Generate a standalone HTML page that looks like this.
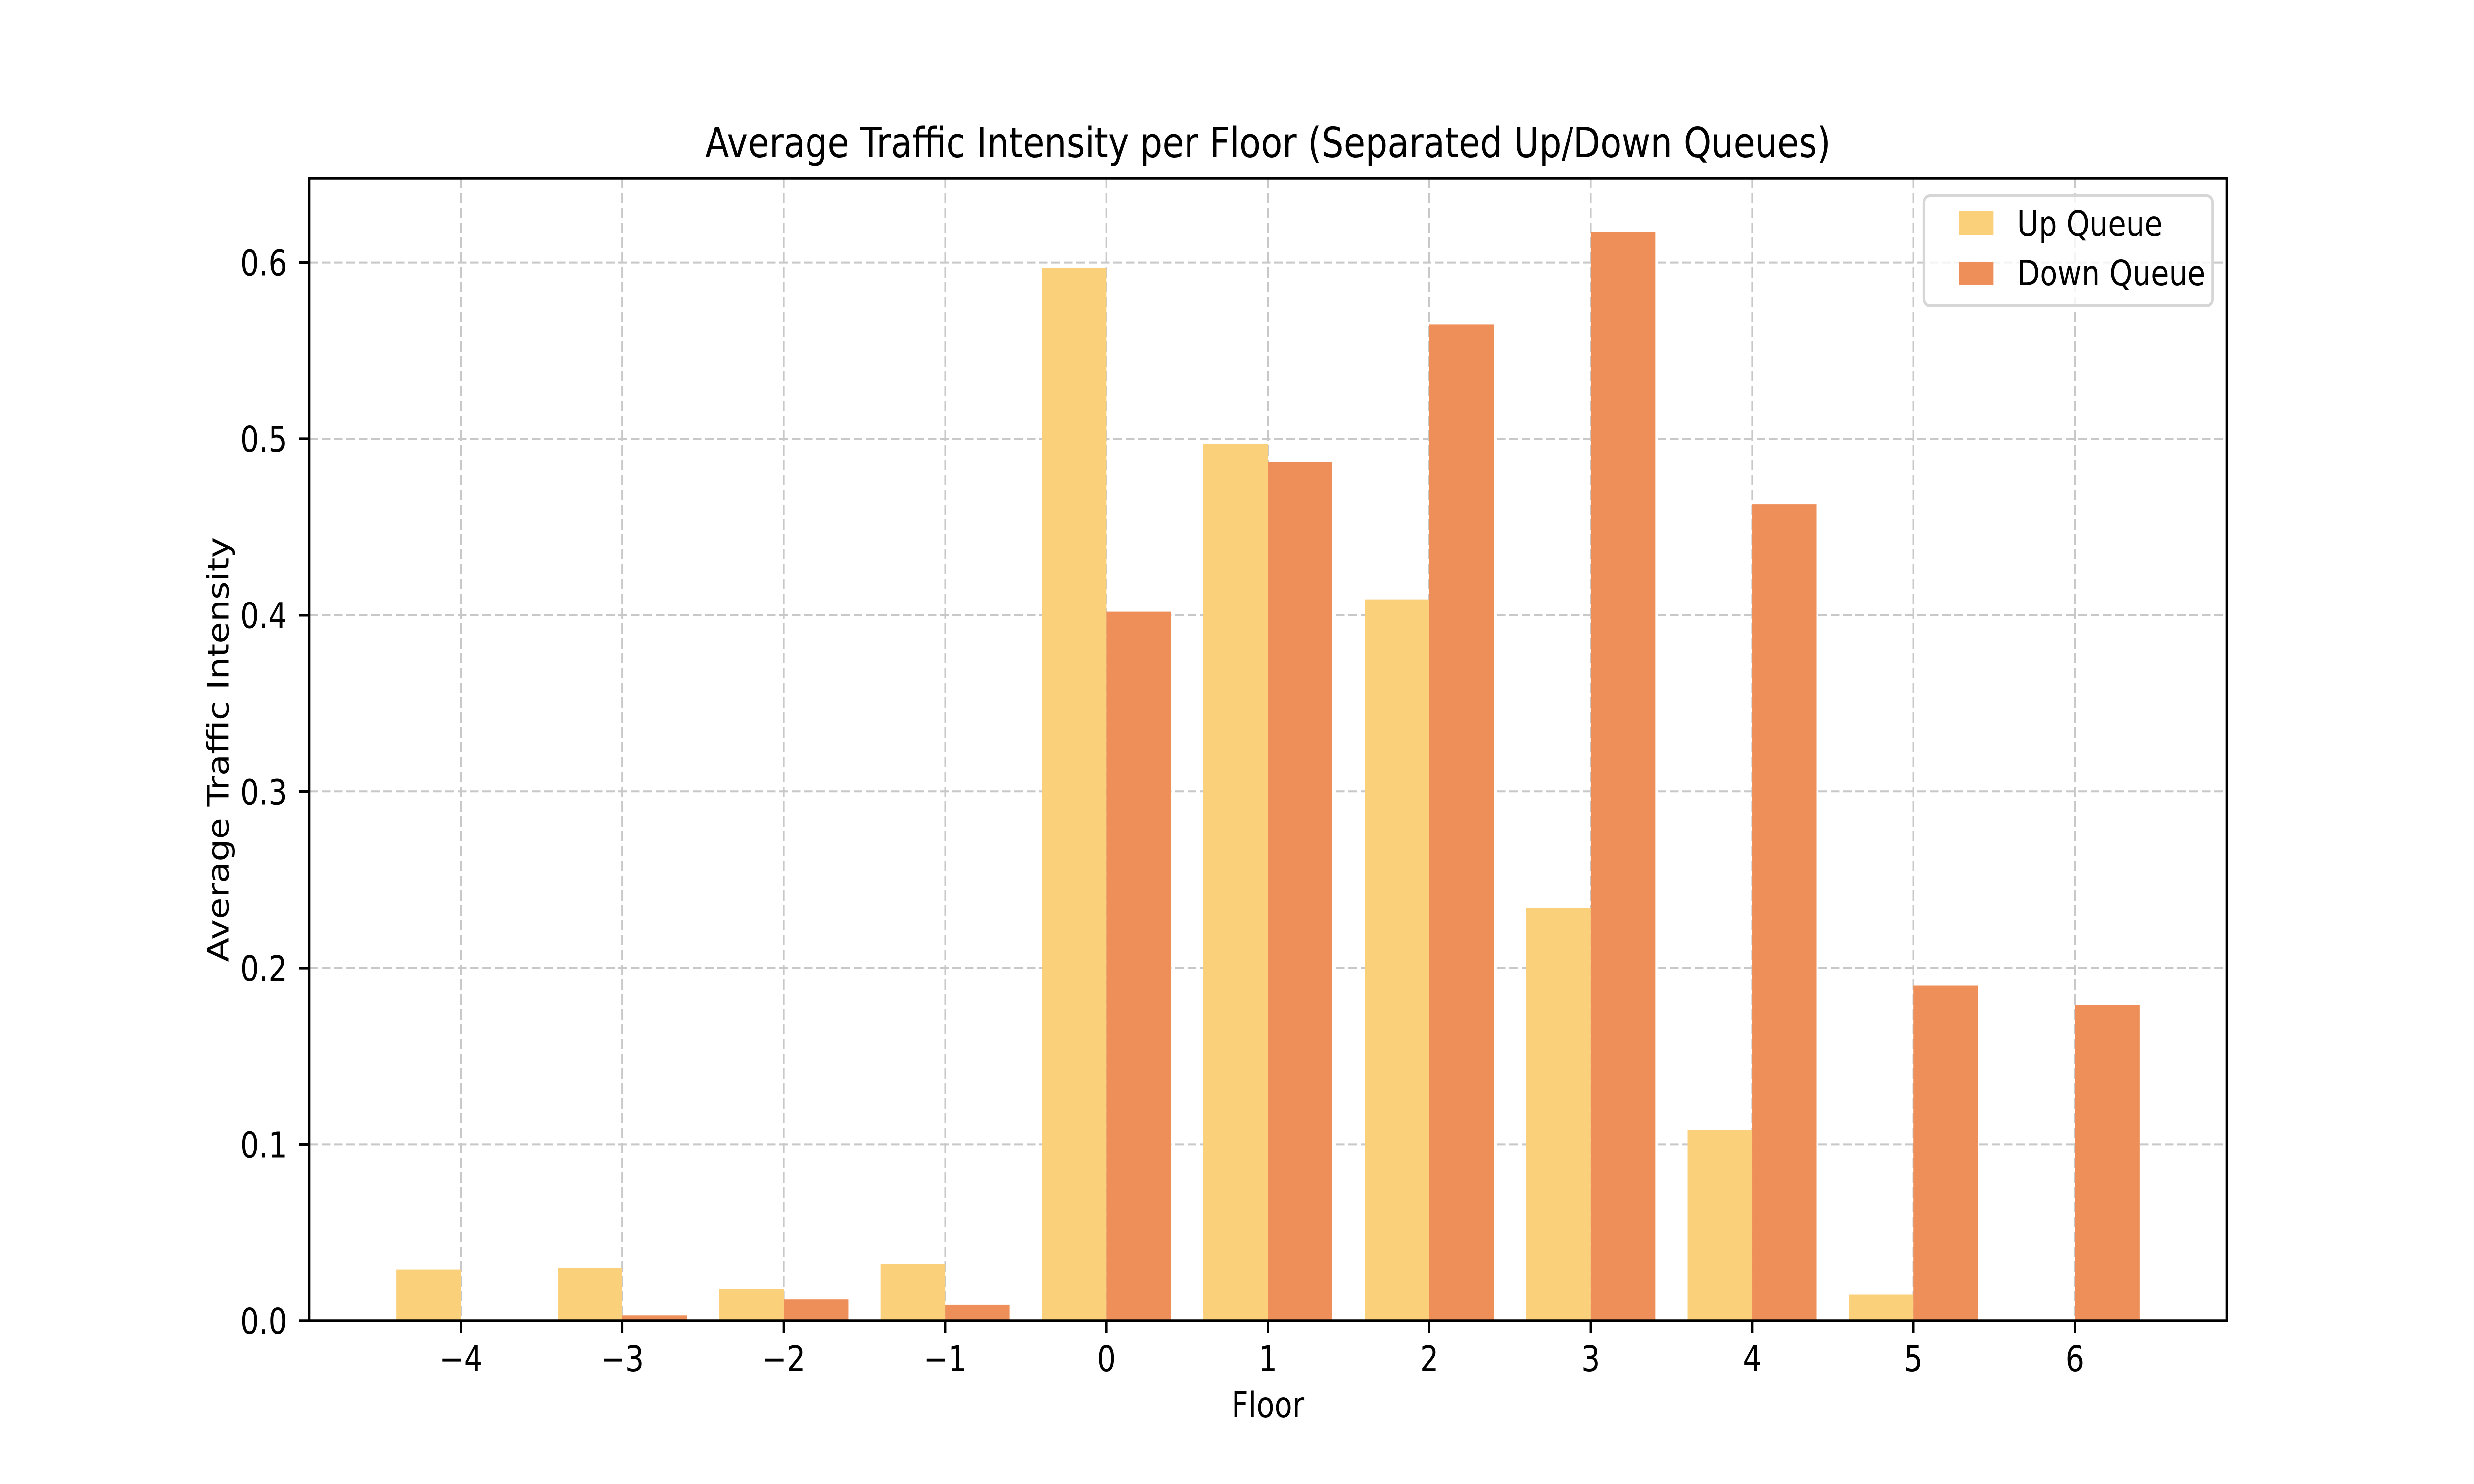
<!DOCTYPE html>
<html><head><meta charset="utf-8"><style>html,body{margin:0;padding:0;background:#fff;width:100%;height:100%;overflow:hidden}svg{display:block;width:100vw;height:100vh}</style></head>
<body>
<svg id="chart" viewBox="0 0 6000 3000" preserveAspectRatio="none" xmlns="http://www.w3.org/2000/svg" font-family="'DejaVu Sans','Liberation Sans',sans-serif">
<rect x="0" y="0" width="6000" height="3000" fill="#ffffff"/>
<g id="grid"></g>
<g id="bars"></g>
<g id="axes"></g>
<text x="3075" y="318" font-size="85" text-anchor="middle" fill="#000">Average Traffic Intensity per Floor (Separated Up/Down Queues)</text>
<text x="3075" y="2865" font-size="71" text-anchor="middle" fill="#000">Floor</text>
<text transform="translate(554,1515) rotate(-90)" font-size="71" text-anchor="middle" fill="#000">Average Traffic Intensity</text>
<g>
<rect x="4666" y="396" width="700" height="222" rx="14" fill="#fff" fill-opacity="0.8" stroke="#d6d6d6" stroke-width="6"/>
<g>
<rect x="4751" y="427" width="83" height="49" fill="#fbd07b"/>
<text x="4892" y="477" font-size="71" fill="#000">Up Queue</text>
</g>
<g>
<rect x="4751" y="529" width="83" height="48" fill="#ee8e58"/>
<text x="4892" y="577" font-size="71" fill="#000">Down Queue</text>
</g>
</g>
</svg>
<script>
const floors = [-4,-3,-2,-1,0,1,2,3,4,5,6];
const upQueue = [0.029,0.030,0.018,0.032,0.597,0.497,0.409,0.234,0.108,0.015,0];
const downQueue = [0,0.003,0.012,0.009,0.402,0.487,0.565,0.617,0.463,0.190,0.179];
const yTicks = [0.0,0.1,0.2,0.3,0.4,0.5,0.6];
const yTickLabels = ["0.0","0.1","0.2","0.3","0.4","0.5","0.6"];
const xTickLabels = ["\u22124","\u22123","\u22122","\u22121","0","1","2","3","4","5","6"];

const NS = "http://www.w3.org/2000/svg";
const L = 750, R = 5400, T = 360, B = 2670;
const barW = 0.4;
const xmin = Math.min(...floors) - barW, xmax = Math.max(...floors) + barW;
const xpad = (xmax - xmin) * 0.05;
const x0 = xmin - xpad, x1 = xmax + xpad;
const ymax = Math.max(...upQueue, ...downQueue) * 1.05;
function sx(v){ return L + (v - x0) / (x1 - x0) * (R - L); }
function sy(v){ return B - v / ymax * (B - T); }
function mk(tag, attrs, parent){ const e = document.createElementNS(NS, tag); for (const k in attrs) e.setAttribute(k, attrs[k]); parent.appendChild(e); return e; }

const grid = document.getElementById('grid');
const bars = document.getElementById('bars');
const axes = document.getElementById('axes');

floors.forEach((f) => {
  const g = mk('line', {x1: sx(f), x2: sx(f), y1: T, y2: B, stroke: '#c8c8c8', 'stroke-width': 4, 'stroke-dasharray': '21 9'}, grid);
  
  
});
yTicks.forEach((v) => {
  const g = mk('line', {x1: L, x2: R, y1: sy(v), y2: sy(v), stroke: '#c8c8c8', 'stroke-width': 4, 'stroke-dasharray': '21 9'}, grid);
  
  
});

floors.forEach((f, i) => {
  const u = mk('rect', {x: sx(f - barW), y: sy(upQueue[i]), width: sx(f) - sx(f - barW), height: sy(0) - sy(upQueue[i]), fill: '#fbd07b'}, bars);
  
  
  const d = mk('rect', {x: sx(f), y: sy(downQueue[i]), width: sx(f + barW) - sx(f), height: sy(0) - sy(downQueue[i]), fill: '#ee8e58'}, bars);
  
  
});

const frame = mk('rect', {x: L, y: T, width: R - L, height: B - T, fill: 'none', stroke: '#000', 'stroke-width': 5.5}, axes);



floors.forEach((f, i) => {
  const t = mk('line', {x1: sx(f), x2: sx(f), y1: B, y2: B + 25, stroke: '#000', 'stroke-width': 5.5}, axes);
  
  
  const lb = mk('text', {x: sx(f), y: 2772, 'font-size': 71, 'text-anchor': 'middle', fill: '#000'}, axes);
  
  
  lb.textContent = xTickLabels[i];
});
yTicks.forEach((v, i) => {
  const t = mk('line', {x1: L - 25, x2: L, y1: sy(v), y2: sy(v), stroke: '#000', 'stroke-width': 5.5}, axes);
  
  
  const lb = mk('text', {x: 696, y: sy(v) + 26, 'font-size': 71, 'text-anchor': 'end', fill: '#000'}, axes);
  
  
  lb.textContent = yTickLabels[i];
});
</script>
</body></html>
